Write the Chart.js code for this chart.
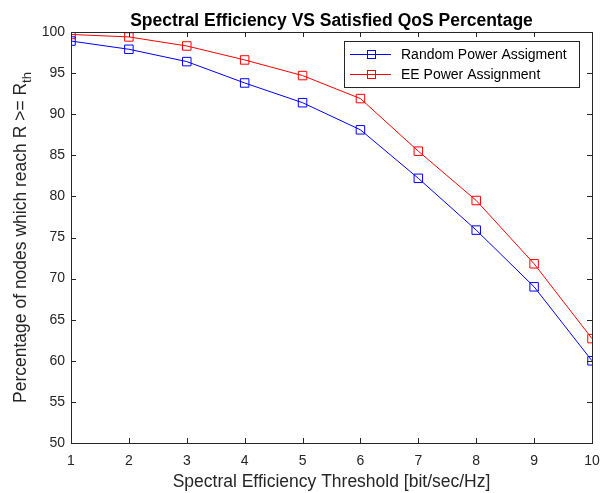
<!DOCTYPE html>
<html>
<head>
<meta charset="utf-8">
<script src="https://cdn.jsdelivr.net/npm/chart.js@4"></script>
<style>
  html, body { margin: 0; padding: 0; background: #fff; }
  #wrap { width: 601px; height: 493px; position: relative; }
</style>
</head>
<body>
<div id="wrap"><canvas id="chart"></canvas></div>
<script>
// Data
const thresholds = [1, 2, 3, 4, 5, 6, 7, 8, 9, 10];
const randomPower = [98.9, 97.9, 96.4, 93.8, 91.4, 88.1, 82.2, 75.9, 69.0, 60.0];
const eePower = [99.7, 99.4, 98.3, 96.6, 94.7, 91.9, 85.5, 79.5, 71.8, 62.7];
const seriesNames = ['Random Power Assigment', 'EE Power Assignment'];
const seriesColors = ['#0000ff', '#ff0000'];
const yTicks = [50, 55, 60, 65, 70, 75, 80, 85, 90, 95, 100];

const FONT = '"Liberation Sans", Arial, sans-serif';

// Draws the MATLAB-like box, inward ticks, title, y label and legend
const matlabDecor = {
  id: 'matlabDecor',
  afterDraw(chart) {
    const { ctx, chartArea: a, scales } = chart;
    ctx.save();
    ctx.strokeStyle = '#262626';
    ctx.lineWidth = 1;
    ctx.strokeRect(Math.round(a.left) + 0.5, Math.round(a.top) + 0.5,
      Math.round(a.right - a.left), Math.round(a.bottom - a.top));

    ctx.beginPath();
    thresholds.forEach(v => {
      const x = Math.round(scales.x.getPixelForValue(v)) + 0.5;
      ctx.moveTo(x, a.bottom); ctx.lineTo(x, a.bottom - 5);
      ctx.moveTo(x, a.top); ctx.lineTo(x, a.top + 5);
    });
    yTicks.forEach(v => {
      const y = Math.round(scales.y.getPixelForValue(v)) + 0.5;
      ctx.moveTo(a.left, y); ctx.lineTo(a.left + 5, y);
      ctx.moveTo(a.right, y); ctx.lineTo(a.right - 5, y);
    });
    ctx.stroke();

    // title
    ctx.fillStyle = '#000';
    ctx.font = 'bold 17.5px ' + FONT;
    ctx.textAlign = 'center';
    ctx.textBaseline = 'alphabetic';
    ctx.fillText('Spectral Efficiency VS Satisfied QoS Percentage', (a.left + a.right) / 2, 26);

    // y axis title with subscript
    ctx.save();
    ctx.translate(26, (a.top + a.bottom) / 2);
    ctx.rotate(-Math.PI / 2);
    ctx.fillStyle = '#262626';
    const main = 'Percentage of nodes which reach R >= R';
    ctx.font = '17.5px ' + FONT;
    const w1 = ctx.measureText(main).width;
    ctx.font = '13px ' + FONT;
    const w2 = ctx.measureText('th').width;
    const start = -(w1 + w2) / 2;
    ctx.textAlign = 'left';
    ctx.font = '17.5px ' + FONT;
    ctx.fillText(main, start, 0);
    ctx.font = '13px ' + FONT;
    ctx.fillText('th', start + w1, 5);
    ctx.restore();

    // legend
    const lx = 344, ly = 41, lw = 235, lh = 46;
    ctx.fillStyle = '#fff';
    ctx.fillRect(lx, ly, lw, lh);
    ctx.strokeStyle = '#262626';
    ctx.strokeRect(lx + 0.5, ly + 0.5, lw, lh);
    ctx.font = '14px ' + FONT;
    ctx.textAlign = 'left';
    ctx.textBaseline = 'middle';
    seriesNames.forEach((name, i) => {
      const cy = ly + 13 + i * 20;
      ctx.strokeStyle = seriesColors[i];
      ctx.beginPath();
      ctx.moveTo(lx + 6, cy + 0.5); ctx.lineTo(lx + 47, cy + 0.5);
      ctx.stroke();
      ctx.strokeRect(lx + 23.5, cy - 3.5, 8, 8);
      ctx.fillStyle = '#000';
      ctx.fillText(name, lx + 57, cy + 1);
    });
    ctx.restore();
  }
};

const datasets = [randomPower, eePower].map((vals, i) => ({
  label: seriesNames[i],
  data: vals,
  borderColor: seriesColors[i],
  backgroundColor: 'transparent',
  borderWidth: 1,
  pointStyle: 'rect',
  pointRadius: 6,
  pointBorderWidth: 1,
  pointBorderColor: seriesColors[i],
  pointBackgroundColor: 'transparent',
  tension: 0,
  fill: false
}));

new Chart(document.getElementById('chart'), {
  type: 'line',
  data: { labels: thresholds, datasets },
  options: {
    responsive: true,
    maintainAspectRatio: false,
    animation: false,
    layout: { padding: { top: 32, right: 9, left: 0, bottom: 0 } },
    plugins: { legend: { display: false }, tooltip: { enabled: false } },
    scales: {
      x: {
        type: 'linear',
        min: 1, max: 10,
        afterFit: s => { s.height = 50; s.paddingLeft = 0; s.paddingRight = 0; },
        afterBuildTicks: s => { s.ticks = thresholds.map(v => ({ value: v })); },
        grid: { drawOnChartArea: false, drawTicks: false },
        border: { display: false },
        ticks: { color: '#262626', font: { family: FONT, size: 14 }, padding: 10, maxRotation: 0, autoSkip: false },
        title: { display: true, text: 'Spectral Efficiency Threshold [bit/sec/Hz]', color: '#262626',
          font: { family: FONT, size: 17.5 }, padding: { top: 1, bottom: 0 } }
      },
      y: {
        min: 50, max: 100,
        afterFit: s => { s.width = 71; s.paddingTop = 0; s.paddingBottom = 0; },
        afterBuildTicks: s => { s.ticks = yTicks.map(v => ({ value: v })); },
        grid: { drawOnChartArea: false, drawTicks: false },
        border: { display: false },
        ticks: { color: '#262626', font: { family: FONT, size: 14 }, padding: 6 }
      }
    }
  },
  plugins: [matlabDecor]
});
</script>
</body>
</html>
